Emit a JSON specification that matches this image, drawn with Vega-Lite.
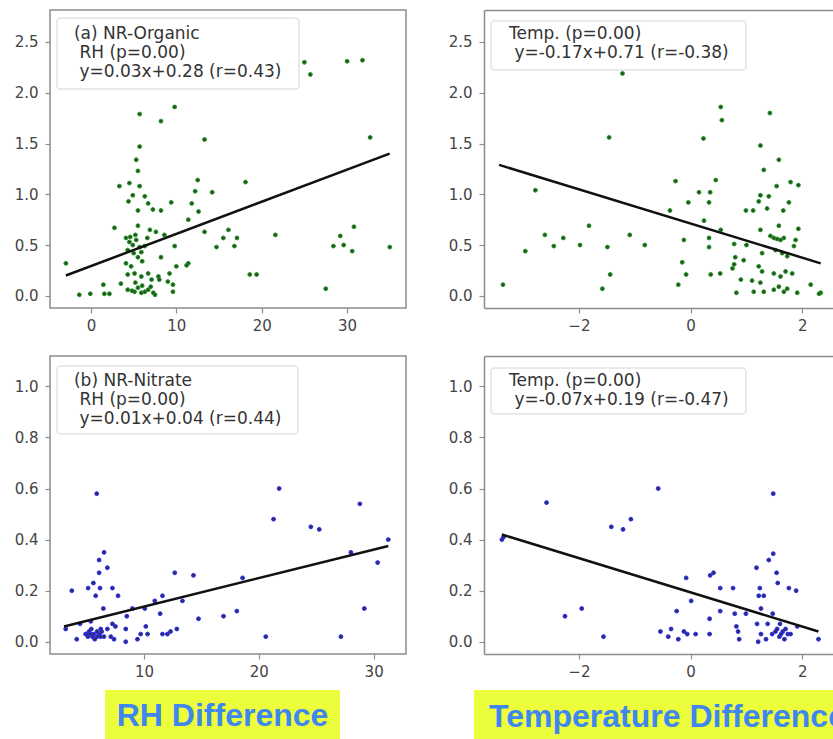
{
  "$schema": "https://vega.github.io/schema/vega-lite/v6.json",
  "background": "white",
  "padding": {"left": 13, "top": 9, "right": 0, "bottom": 0},
  "spacing": 10,
  "datasets": {
    "a_pts": [
      {"x": -2.94, "y": 0.32}, {"x": -1.37, "y": 0.01}, {"x": -0.08, "y": 0.02}, {"x": 1.45, "y": 0.11}, {"x": 1.57, "y": 0.02}, {"x": 2.16, "y": 0.02},
      {"x": 2.75, "y": 0.67}, {"x": 3.33, "y": 1.08}, {"x": 4.5, "y": 1.11}, {"x": 4.4, "y": 0.93}, {"x": 4.9, "y": 0.99}, {"x": 5.3, "y": 1.34},
      {"x": 5.5, "y": 1.23}, {"x": 5.7, "y": 1.47}, {"x": 5.7, "y": 1.79}, {"x": 5.7, "y": 1.08}, {"x": 5.5, "y": 0.84}, {"x": 5.5, "y": 0.69},
      {"x": 6.3, "y": 0.98}, {"x": 6.7, "y": 0.91}, {"x": 7.25, "y": 0.85}, {"x": 8.2, "y": 0.84}, {"x": 8.2, "y": 1.72}, {"x": 9.8, "y": 1.86},
      {"x": 9.4, "y": 0.92}, {"x": 6.9, "y": 0.65}, {"x": 7.6, "y": 0.63}, {"x": 8.6, "y": 0.6}, {"x": 9.8, "y": 0.49},
      {"x": 4.1, "y": 0.57}, {"x": 4.5, "y": 0.53}, {"x": 4.9, "y": 0.5}, {"x": 5.3, "y": 0.55}, {"x": 5.7, "y": 0.48}, {"x": 4.3, "y": 0.45},
      {"x": 5.0, "y": 0.42}, {"x": 5.9, "y": 0.43}, {"x": 6.3, "y": 0.49}, {"x": 5.5, "y": 0.38}, {"x": 6.0, "y": 0.34}, {"x": 4.6, "y": 0.58},
      {"x": 5.2, "y": 0.6}, {"x": 6.6, "y": 0.57},
      {"x": 4.1, "y": 0.32}, {"x": 4.7, "y": 0.29}, {"x": 4.3, "y": 0.21}, {"x": 5.1, "y": 0.22}, {"x": 5.9, "y": 0.19}, {"x": 6.7, "y": 0.22},
      {"x": 7.1, "y": 0.16}, {"x": 7.9, "y": 0.19},
      {"x": 3.5, "y": 0.12}, {"x": 4.3, "y": 0.06}, {"x": 5.1, "y": 0.04}, {"x": 5.9, "y": 0.03}, {"x": 6.7, "y": 0.06}, {"x": 7.3, "y": 0.03},
      {"x": 7.5, "y": 0.01}, {"x": 6.3, "y": 0.04}, {"x": 5.5, "y": 0.08}, {"x": 4.8, "y": 0.05}, {"x": 6.0, "y": 0.1}, {"x": 7.0, "y": 0.09}, {"x": 5.2, "y": 0.13},
      {"x": 8.2, "y": 0.38}, {"x": 8.0, "y": 0.16}, {"x": 9.0, "y": 0.14}, {"x": 9.6, "y": 0.11}, {"x": 9.6, "y": 0.04}, {"x": 9.2, "y": 0.22},
      {"x": 10.0, "y": 0.29}, {"x": 11.4, "y": 0.32}, {"x": 11.2, "y": 0.3}, {"x": 11.4, "y": 0.75}, {"x": 11.8, "y": 0.91}, {"x": 12.2, "y": 1.03},
      {"x": 12.5, "y": 1.14}, {"x": 12.6, "y": 0.83}, {"x": 13.3, "y": 1.54}, {"x": 13.3, "y": 0.63}, {"x": 14.2, "y": 1.02}, {"x": 14.7, "y": 0.48},
      {"x": 15.5, "y": 0.57}, {"x": 16.1, "y": 0.65}, {"x": 17.1, "y": 0.57}, {"x": 16.8, "y": 0.49}, {"x": 18.1, "y": 1.12}, {"x": 18.6, "y": 0.21},
      {"x": 19.4, "y": 0.21}, {"x": 21.6, "y": 0.6}, {"x": 25.0, "y": 2.3}, {"x": 25.7, "y": 2.18}, {"x": 27.5, "y": 0.07}, {"x": 28.4, "y": 0.49},
      {"x": 29.2, "y": 0.59}, {"x": 29.6, "y": 0.5}, {"x": 30.6, "y": 0.44}, {"x": 30.8, "y": 0.68}, {"x": 30.0, "y": 2.31}, {"x": 31.8, "y": 2.32},
      {"x": 32.7, "y": 1.56}, {"x": 35.0, "y": 0.48}
    ],
    "a_fit": [{"x": -2.94, "y": 0.2}, {"x": 34.98, "y": 1.4}],
    "c_pts": [
      {"x": -3.36, "y": 0.11}, {"x": -2.96, "y": 0.44}, {"x": -2.78, "y": 1.04}, {"x": -2.61, "y": 0.6}, {"x": -2.45, "y": 0.49}, {"x": -2.28, "y": 0.57},
      {"x": -1.98, "y": 0.5}, {"x": -1.82, "y": 0.69}, {"x": -1.58, "y": 0.07}, {"x": -1.49, "y": 0.48}, {"x": -1.46, "y": 1.56}, {"x": -1.44, "y": 0.21},
      {"x": -1.22, "y": 2.19}, {"x": -1.09, "y": 0.6}, {"x": -0.82, "y": 0.5}, {"x": -0.37, "y": 0.84}, {"x": -0.27, "y": 1.13}, {"x": -0.22, "y": 0.11},
      {"x": -0.15, "y": 0.33}, {"x": -0.12, "y": 0.55}, {"x": -0.08, "y": 0.21}, {"x": -0.04, "y": 0.92}, {"x": 0.15, "y": 1.02}, {"x": 0.23, "y": 1.55},
      {"x": 0.24, "y": 0.74}, {"x": 0.33, "y": 0.92}, {"x": 0.35, "y": 1.02}, {"x": 0.33, "y": 0.57}, {"x": 0.33, "y": 0.48}, {"x": 0.36, "y": 0.21},
      {"x": 0.45, "y": 1.14}, {"x": 0.53, "y": 0.22}, {"x": 0.54, "y": 0.65}, {"x": 0.54, "y": 1.86}, {"x": 0.56, "y": 1.73}, {"x": 0.78, "y": 0.51},
      {"x": 0.82, "y": 0.03}, {"x": 0.8, "y": 0.38}, {"x": 0.78, "y": 0.31}, {"x": 0.75, "y": 0.27}, {"x": 0.9, "y": 0.16}, {"x": 0.99, "y": 0.84},
      {"x": 1.12, "y": 0.84}, {"x": 1.13, "y": 0.04}, {"x": 1.22, "y": 0.93}, {"x": 1.25, "y": 0.99}, {"x": 1.25, "y": 1.48}, {"x": 1.25, "y": 0.65},
      {"x": 1.28, "y": 0.42}, {"x": 1.22, "y": 0.29}, {"x": 1.28, "y": 0.24}, {"x": 1.25, "y": 0.13}, {"x": 1.31, "y": 0.04}, {"x": 1.31, "y": 1.24},
      {"x": 1.37, "y": 0.86}, {"x": 1.4, "y": 0.98}, {"x": 1.42, "y": 1.8}, {"x": 1.43, "y": 0.59}, {"x": 1.49, "y": 0.57}, {"x": 1.55, "y": 0.56},
      {"x": 1.61, "y": 0.55}, {"x": 1.67, "y": 0.57}, {"x": 1.54, "y": 1.08}, {"x": 1.58, "y": 1.34}, {"x": 1.58, "y": 0.69}, {"x": 1.66, "y": 0.84},
      {"x": 1.52, "y": 0.45}, {"x": 1.64, "y": 0.42}, {"x": 1.73, "y": 0.39}, {"x": 1.49, "y": 0.22}, {"x": 1.61, "y": 0.19}, {"x": 1.7, "y": 0.24},
      {"x": 1.82, "y": 0.22}, {"x": 1.49, "y": 0.06}, {"x": 1.58, "y": 0.09}, {"x": 1.67, "y": 0.04}, {"x": 1.73, "y": 0.07}, {"x": 1.91, "y": 0.03},
      {"x": 1.76, "y": 0.92}, {"x": 1.79, "y": 1.12}, {"x": 1.85, "y": 0.49}, {"x": 1.88, "y": 0.55}, {"x": 1.93, "y": 1.09}, {"x": 1.93, "y": 0.66},
      {"x": 2.15, "y": 0.11}, {"x": 2.33, "y": 0.03}, {"x": 2.3, "y": 0.02}, {"x": 1.1, "y": 0.15}, {"x": 1.0, "y": 0.5}, {"x": 0.95, "y": 0.35}
    ],
    "c_fit": [{"x": -3.43, "y": 1.29}, {"x": 2.33, "y": 0.32}],
    "b_pts": [
      {"x": 3.17, "y": 0.05}, {"x": 3.7, "y": 0.2}, {"x": 4.13, "y": 0.01}, {"x": 4.42, "y": 0.07}, {"x": 5.12, "y": 0.21}, {"x": 5.35, "y": 0.08},
      {"x": 5.58, "y": 0.23}, {"x": 5.78, "y": 0.18}, {"x": 5.87, "y": 0.58}, {"x": 6.08, "y": 0.27}, {"x": 6.08, "y": 0.32}, {"x": 6.16, "y": 0.21},
      {"x": 6.51, "y": 0.35}, {"x": 6.45, "y": 0.13}, {"x": 6.8, "y": 0.29}, {"x": 7.24, "y": 0.21}, {"x": 7.73, "y": 0.18},
      {"x": 4.9, "y": 0.03}, {"x": 5.1, "y": 0.02}, {"x": 5.35, "y": 0.03}, {"x": 5.6, "y": 0.03}, {"x": 5.9, "y": 0.02}, {"x": 6.1, "y": 0.03},
      {"x": 6.2, "y": 0.02}, {"x": 5.5, "y": 0.02}, {"x": 5.9, "y": 0.04}, {"x": 6.5, "y": 0.02}, {"x": 5.2, "y": 0.04}, {"x": 5.7, "y": 0.01},
      {"x": 5.4, "y": 0.05}, {"x": 5.0, "y": 0.03}, {"x": 6.3, "y": 0.04},
      {"x": 6.22, "y": 0.05}, {"x": 6.8, "y": 0.05}, {"x": 7.24, "y": 0.07}, {"x": 7.5, "y": 0.06}, {"x": 7.1, "y": 0.02}, {"x": 7.38, "y": 0.01},
      {"x": 8.4, "y": 0.05}, {"x": 8.4, "y": 0.0}, {"x": 8.49, "y": 0.1}, {"x": 8.98, "y": 0.13}, {"x": 9.42, "y": 0.01}, {"x": 9.7, "y": 0.03},
      {"x": 10.06, "y": 0.13}, {"x": 10.15, "y": 0.06}, {"x": 10.3, "y": 0.03}, {"x": 10.93, "y": 0.16}, {"x": 11.4, "y": 0.11}, {"x": 11.6, "y": 0.03},
      {"x": 11.6, "y": 0.18}, {"x": 12.03, "y": 0.03}, {"x": 12.3, "y": 0.04}, {"x": 12.67, "y": 0.27}, {"x": 12.85, "y": 0.05}, {"x": 13.34, "y": 0.16},
      {"x": 14.3, "y": 0.26}, {"x": 14.74, "y": 0.09}, {"x": 16.92, "y": 0.1}, {"x": 18.08, "y": 0.12}, {"x": 18.58, "y": 0.25}, {"x": 20.6, "y": 0.02},
      {"x": 21.28, "y": 0.48}, {"x": 21.77, "y": 0.6}, {"x": 24.53, "y": 0.45}, {"x": 25.26, "y": 0.44}, {"x": 27.15, "y": 0.02}, {"x": 28.02, "y": 0.35},
      {"x": 28.8, "y": 0.54}, {"x": 29.19, "y": 0.13}, {"x": 30.35, "y": 0.31}, {"x": 31.28, "y": 0.4}
    ],
    "b_fit": [{"x": 3.02, "y": 0.06}, {"x": 31.28, "y": 0.375}],
    "d_pts": [
      {"x": -3.38, "y": 0.4}, {"x": -3.35, "y": 0.41}, {"x": -2.58, "y": 0.545}, {"x": -2.25, "y": 0.1}, {"x": -1.95, "y": 0.13}, {"x": -1.56, "y": 0.02},
      {"x": -1.42, "y": 0.45}, {"x": -1.21, "y": 0.44}, {"x": -1.07, "y": 0.48}, {"x": -0.58, "y": 0.6}, {"x": -0.54, "y": 0.04}, {"x": -0.4, "y": 0.02},
      {"x": -0.35, "y": 0.05}, {"x": -0.25, "y": 0.12}, {"x": -0.22, "y": 0.01}, {"x": -0.12, "y": 0.04}, {"x": -0.08, "y": 0.25}, {"x": -0.06, "y": 0.03},
      {"x": 0.01, "y": 0.16}, {"x": 0.09, "y": 0.03}, {"x": 0.34, "y": 0.09}, {"x": 0.34, "y": 0.03}, {"x": 0.35, "y": 0.26}, {"x": 0.41, "y": 0.27},
      {"x": 0.53, "y": 0.12}, {"x": 0.53, "y": 0.21}, {"x": 0.76, "y": 0.21}, {"x": 0.79, "y": 0.11}, {"x": 0.82, "y": 0.06}, {"x": 0.85, "y": 0.04},
      {"x": 0.87, "y": 0.01}, {"x": 0.99, "y": 0.11}, {"x": 1.18, "y": 0.29}, {"x": 1.19, "y": 0.07}, {"x": 1.21, "y": 0.0}, {"x": 1.24, "y": 0.21},
      {"x": 1.22, "y": 0.18}, {"x": 1.31, "y": 0.18}, {"x": 1.26, "y": 0.13}, {"x": 1.26, "y": 0.03}, {"x": 1.35, "y": 0.01}, {"x": 1.38, "y": 0.07},
      {"x": 1.4, "y": 0.32}, {"x": 1.46, "y": 0.03}, {"x": 1.48, "y": 0.58}, {"x": 1.48, "y": 0.345}, {"x": 1.52, "y": 0.04}, {"x": 1.54, "y": 0.27},
      {"x": 1.56, "y": 0.23}, {"x": 1.59, "y": 0.02}, {"x": 1.6, "y": 0.07}, {"x": 1.65, "y": 0.04}, {"x": 1.68, "y": 0.01}, {"x": 1.74, "y": 0.03},
      {"x": 1.76, "y": 0.21}, {"x": 1.79, "y": 0.03}, {"x": 1.89, "y": 0.2}, {"x": 1.91, "y": 0.06}, {"x": 2.29, "y": 0.01}, {"x": 1.47, "y": 0.11},
      {"x": 1.55, "y": 0.05}, {"x": 1.62, "y": 0.03}, {"x": 1.7, "y": 0.05}
    ],
    "d_fit": [{"x": -3.38, "y": 0.42}, {"x": 2.29, "y": 0.04}]
  },
  "vconcat": [
    {
      "spacing": 21,
      "vconcat": [
        {
          "spacing": 41,
          "hconcat": [
            {
              "width": 356, "height": 298,
              "view": {"stroke": "#8c8c8c", "strokeWidth": 1.5},
              "layer": [
                {"data": {"name": "a_pts"},
                 "mark": {"type": "circle", "size": 15, "opacity": 1, "fill": "#2a4f2a", "stroke": "#1f9a1f", "strokeWidth": 1},
                 "encoding": {
                   "x": {"field": "x", "type": "quantitative", "scale": {"domain": [-4.8, 36.9], "nice": false, "zero": false}, "axis": {"title": null, "values": [0, 10, 20, 30], "domain": false}},
                   "y": {"field": "y", "type": "quantitative", "scale": {"domain": [-0.12, 2.815], "nice": false, "zero": false}, "axis": {"title": null, "values": [0, 0.5, 1, 1.5, 2, 2.5], "format": ".1f", "domain": false}}}},
                {"data": {"name": "a_fit"},
                 "mark": {"type": "line", "color": "#111111", "strokeWidth": 2.5},
                 "encoding": {"x": {"field": "x", "type": "quantitative", "axis": {"title": null}}, "y": {"field": "y", "type": "quantitative", "axis": {"title": null}}}},
                {"data": {"values": [{}]},
                 "mark": {"type": "rect", "fill": "#ffffff", "fillOpacity": 0.8, "stroke": "#d4d4d4", "strokeWidth": 1, "cornerRadius": 3},
                 "encoding": {"x": {"datum": -3.98, "axis": {"title": null}}, "x2": {"datum": 24.36}, "y": {"datum": 2.736, "axis": {"title": null}}, "y2": {"datum": 2.037}}},
                {"data": {"values": [{"label": "(a) NR-Organic\n\u200b\u00a0RH (p=0.00)\n\u200b\u00a0y=0.03x+0.28 (r=0.43)"}]},
                 "mark": {"type": "text", "align": "left", "baseline": "top", "lineBreak": "\n", "lineHeight": 19, "fontSize": 17, "font": "DejaVu Sans", "color": "#333333"},
                 "encoding": {"x": {"datum": -1.99, "axis": {"title": null}}, "y": {"datum": 2.662, "axis": {"title": null}}, "text": {"field": "label"}}}
              ]
            },
            {
              "width": 349, "height": 298,
              "view": {"stroke": null},
              "resolve": {"axis": {"x": "independent"}},
              "layer": [
                {"data": {"name": "c_pts"},
                 "mark": {"type": "circle", "size": 15, "opacity": 1, "fill": "#2a4f2a", "stroke": "#1f9a1f", "strokeWidth": 1},
                 "encoding": {
                   "x": {"field": "x", "type": "quantitative", "scale": {"domain": [-3.7, 2.55], "nice": false, "zero": false}, "axis": {"title": null, "values": [-2, 0, 2], "domain": true, "orient": "bottom"}},
                   "y": {"field": "y", "type": "quantitative", "scale": {"domain": [-0.12, 2.815], "nice": false, "zero": false}, "axis": {"title": null, "values": [0, 0.5, 1, 1.5, 2, 2.5], "format": ".1f", "domain": true}}}},
                {"data": {"name": "c_fit"},
                 "mark": {"type": "line", "color": "#111111", "strokeWidth": 2.5},
                 "encoding": {"x": {"field": "x", "type": "quantitative", "axis": {"orient": "top", "labels": false, "ticks": false, "domain": true, "title": null}}, "y": {"field": "y", "type": "quantitative", "axis": {"title": null}}}},
                {"data": {"values": [{}]},
                 "mark": {"type": "rect", "fill": "#ffffff", "fillOpacity": 0.8, "stroke": "#d4d4d4", "strokeWidth": 1, "cornerRadius": 3},
                 "encoding": {"x": {"datum": -3.575, "axis": null}, "x2": {"datum": 0.992}, "y": {"datum": 2.707, "axis": {"title": null}}, "y2": {"datum": 2.224}}},
                {"data": {"values": [{"label": "Temp. (p=0.00)\n\u200b\u00a0y=-0.17x+0.71 (r=-0.38)"}]},
                 "mark": {"type": "text", "align": "left", "baseline": "top", "lineBreak": "\n", "lineHeight": 19, "fontSize": 17, "font": "DejaVu Sans", "color": "#333333"},
                 "encoding": {"x": {"datum": -3.252, "axis": null}, "y": {"datum": 2.662, "axis": {"title": null}}, "text": {"field": "label"}}}
              ]
            }
          ]
        },
        {
          "spacing": 41,
          "hconcat": [
            {
              "width": 356, "height": 298,
              "view": {"stroke": "#8c8c8c", "strokeWidth": 1.5},
              "layer": [
                {"data": {"name": "b_pts"},
                 "mark": {"type": "circle", "size": 15, "opacity": 1, "fill": "#30305e", "stroke": "#2a2aff", "strokeWidth": 1},
                 "encoding": {
                   "x": {"field": "x", "type": "quantitative", "scale": {"domain": [1.8, 32.82], "nice": false, "zero": false}, "axis": {"title": null, "values": [10, 20, 30], "domain": false}},
                   "y": {"field": "y", "type": "quantitative", "scale": {"domain": [-0.048, 1.119], "nice": false, "zero": false}, "axis": {"title": null, "values": [0, 0.2, 0.4, 0.6, 0.8, 1.0], "format": ".1f", "domain": false}}}},
                {"data": {"name": "b_fit"},
                 "mark": {"type": "line", "color": "#111111", "strokeWidth": 2.5},
                 "encoding": {"x": {"field": "x", "type": "quantitative", "axis": {"title": null}}, "y": {"field": "y", "type": "quantitative", "axis": {"title": null}}}},
                {"data": {"values": [{}]},
                 "mark": {"type": "rect", "fill": "#ffffff", "fillOpacity": 0.8, "stroke": "#d4d4d4", "strokeWidth": 1, "cornerRadius": 3},
                 "encoding": {"x": {"datum": 2.41, "axis": {"title": null}}, "x2": {"datum": 23.41}, "y": {"datum": 1.08, "axis": {"title": null}}, "y2": {"datum": 0.814}}},
                {"data": {"values": [{"label": "(b) NR-Nitrate\n\u200b\u00a0RH (p=0.00)\n\u200b\u00a0y=0.01x+0.04 (r=0.44)"}]},
                 "mark": {"type": "text", "align": "left", "baseline": "top", "lineBreak": "\n", "lineHeight": 19, "fontSize": 17, "font": "DejaVu Sans", "color": "#333333"},
                 "encoding": {"x": {"datum": 3.89, "axis": {"title": null}}, "y": {"datum": 1.054, "axis": {"title": null}}, "text": {"field": "label"}}}
              ]
            },
            {
              "width": 349, "height": 298,
              "view": {"stroke": null},
              "resolve": {"axis": {"x": "independent"}},
              "layer": [
                {"data": {"name": "d_pts"},
                 "mark": {"type": "circle", "size": 15, "opacity": 1, "fill": "#30305e", "stroke": "#2a2aff", "strokeWidth": 1},
                 "encoding": {
                   "x": {"field": "x", "type": "quantitative", "scale": {"domain": [-3.7, 2.55], "nice": false, "zero": false}, "axis": {"title": null, "values": [-2, 0, 2], "domain": true, "orient": "bottom"}},
                   "y": {"field": "y", "type": "quantitative", "scale": {"domain": [-0.048, 1.119], "nice": false, "zero": false}, "axis": {"title": null, "values": [0, 0.2, 0.4, 0.6, 0.8, 1.0], "format": ".1f", "domain": true}}}},
                {"data": {"name": "d_fit"},
                 "mark": {"type": "line", "color": "#111111", "strokeWidth": 2.5},
                 "encoding": {"x": {"field": "x", "type": "quantitative", "axis": {"orient": "top", "labels": false, "ticks": false, "domain": true, "title": null}}, "y": {"field": "y", "type": "quantitative", "axis": {"title": null}}}},
                {"data": {"values": [{}]},
                 "mark": {"type": "rect", "fill": "#ffffff", "fillOpacity": 0.8, "stroke": "#d4d4d4", "strokeWidth": 1, "cornerRadius": 3},
                 "encoding": {"x": {"datum": -3.575, "axis": null}, "x2": {"datum": 0.992}, "y": {"datum": 1.072, "axis": {"title": null}}, "y2": {"datum": 0.892}}},
                {"data": {"values": [{"label": "Temp. (p=0.00)\n\u200b\u00a0y=-0.07x+0.19 (r=-0.47)"}]},
                 "mark": {"type": "text", "align": "left", "baseline": "top", "lineBreak": "\n", "lineHeight": 19, "fontSize": 17, "font": "DejaVu Sans", "color": "#333333"},
                 "encoding": {"x": {"datum": -3.252, "axis": null}, "y": {"datum": 1.054, "axis": {"title": null}}, "text": {"field": "label"}}}
              ]
            }
          ]
        }
      ]
    },
    {
      "spacing": 0,
      "hconcat": [
        {"width": 55, "height": 51, "view": {"stroke": null}, "data": {"values": [{}]}, "mark": {"type": "text", "text": ""}},
        {"width": 235, "height": 51, "view": {"fill": "#ecfd3c", "stroke": null},
         "data": {"values": [{"label": "RH Difference"}]},
         "mark": {"type": "text", "font": "Liberation Sans", "fontWeight": "bold", "fontSize": 32, "color": "#3f86ef", "dy": 0},
         "encoding": {"text": {"field": "label"}}},
        {"width": 134, "height": 51, "view": {"stroke": null}, "data": {"values": [{}]}, "mark": {"type": "text", "text": ""}},
        {"width": 359, "height": 51, "view": {"fill": "#ecfd3c", "stroke": null},
         "data": {"values": [{"label": "Temperature Difference"}]},
         "mark": {"type": "text", "font": "Liberation Sans", "fontWeight": "bold", "fontSize": 32, "color": "#3f86ef", "dx": 14, "dy": 1, "clip": true},
         "encoding": {"text": {"field": "label"}}}
      ]
    }
  ],
  "config": {
    "axis": {"grid": false, "labelFont": "DejaVu Sans", "labelFontSize": 15, "labelColor": "#444444", "tickColor": "#8c8c8c", "tickSize": 5, "tickWidth": 1.2, "domainColor": "#8c8c8c", "domainWidth": 1.5},
    "axisX": {"labelPadding": 5},
    "axisY": {"labelPadding": 7}
  }
}
